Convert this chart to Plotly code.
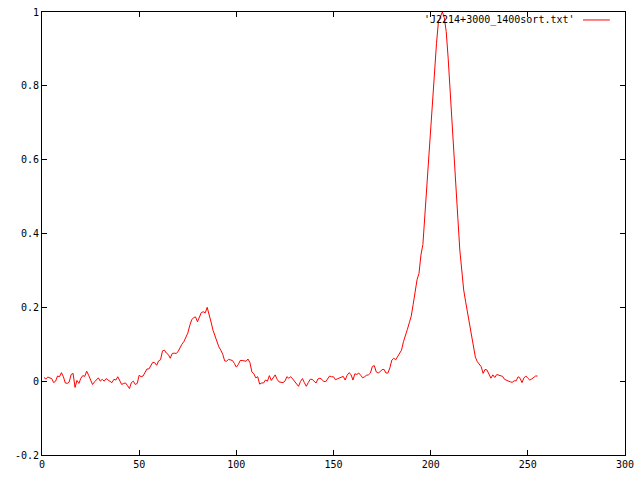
import plotly.graph_objects as go

# channel index
x_vals = list(range(1, 256))

# normalised intensity
y_vals = [
    # 1-10
    0.010, 0.006, 0.011, 0.009, 0.007, -0.004, 0.000, 0.014, 0.012, 0.023,
    # 11-20
    0.012, -0.005, -0.006, -0.002, 0.018, 0.021, -0.017, 0.002, -0.006, 0.008,
    # 21-30
    0.015, 0.013, 0.027, 0.016, 0.005, -0.009, -0.002, 0.005, 0.009, 0.000,
    # 31-40
    0.005, 0.000, 0.007, 0.003, 0.000, -0.004, 0.005, 0.003, 0.012, 0.002,
    # 41-50
    -0.009, -0.006, -0.005, -0.012, -0.020, -0.004, 0.000, -0.009, -0.006, 0.016,
    # 51-60
    0.012, 0.014, 0.025, 0.033, 0.033, 0.043, 0.051, 0.050, 0.043, 0.055,
    # 61-70
    0.058, 0.082, 0.084, 0.076, 0.072, 0.062, 0.075, 0.076, 0.075, 0.080,
    # 71-80
    0.092, 0.100, 0.107, 0.118, 0.130, 0.150, 0.166, 0.172, 0.174, 0.161,
    # 81-90
    0.174, 0.186, 0.188, 0.185, 0.200, 0.182, 0.160, 0.138, 0.122, 0.108,
    # 91-100
    0.093, 0.084, 0.073, 0.055, 0.054, 0.059, 0.057, 0.056, 0.048, 0.038,
    # 101-110
    0.045, 0.056, 0.056, 0.055, 0.054, 0.060, 0.050, 0.025, 0.020, 0.009,
    # 111-120
    0.012, -0.008, -0.005, -0.005, 0.003, 0.000, 0.015, 0.002, 0.010, 0.017,
    # 121-130
    0.005, -0.002, -0.003, -0.004, 0.000, 0.012, 0.008, 0.012, 0.006, 0.000,
    # 131-140
    -0.008, -0.014, -0.001, 0.007, -0.004, -0.014, -0.004, 0.005, 0.005, 0.000,
    # 141-150
    -0.005, 0.006, 0.008, 0.005, -0.001, -0.001, 0.007, 0.014, 0.012, 0.012,
    # 151-160
    0.004, 0.006, 0.009, 0.011, 0.013, 0.003, 0.016, 0.023, 0.018, 0.003,
    # 161-170
    0.020, 0.018, 0.022, 0.016, 0.009, 0.012, 0.016, 0.017, 0.022, 0.040,
    # 171-180
    0.042, 0.025, 0.022, 0.026, 0.031, 0.032, 0.022, 0.022, 0.036, 0.057,
    # 181-190
    0.062, 0.058, 0.068, 0.074, 0.084, 0.107, 0.127, 0.140, 0.158, 0.176,
    # 191-200
    0.208, 0.243, 0.275, 0.292, 0.342, 0.370, 0.450, 0.527, 0.599, 0.685,
    # 201-210
    0.774, 0.857, 0.915, 0.974, 0.990, 1.000, 0.985, 0.947, 0.875, 0.794,
    # 211-220
    0.703, 0.613, 0.527, 0.441, 0.355, 0.297, 0.247, 0.215, 0.184, 0.150,
    # 221-230
    0.115, 0.090, 0.065, 0.053, 0.045, 0.039, 0.021, 0.032, 0.030, 0.017,
    # 231-240
    0.008, 0.017, 0.010, 0.018, 0.017, 0.016, 0.013, 0.005, 0.002, -0.001,
    # 241-250
    -0.002, -0.003, 0.001, 0.001, 0.012, 0.008, -0.004, 0.009, 0.014, 0.008,
    # 251-255
    0.003, 0.006, 0.011, 0.014, 0.014,
]

series_name = "'J2214+3000_1400sort.txt'"
x_ticks = [0, 50, 100, 150, 200, 250, 300]
y_ticks = [-0.2, 0, 0.2, 0.4, 0.6, 0.8, 1]
y_tick_text = ["-0.2", "0", "0.2", "0.4", "0.6", "0.8", "1"]

font = dict(family="DejaVu Sans Mono", size=10, color="black")

fig = go.Figure()
fig.add_trace(go.Scatter(
    x=x_vals, y=y_vals, mode="lines",
    line=dict(color="#ff0000", width=1),
    name=series_name, showlegend=False, hoverinfo="skip",
))

axis_common = dict(
    showline=True, linecolor="black", linewidth=1, mirror="allticks",
    ticks="inside", ticklen=5, tickcolor="black", tickwidth=1,
    showgrid=False, zeroline=False, tickfont=font, automargin=False,
)

fig.update_layout(
    width=640, height=480,
    margin=dict(l=42, r=15, t=12, b=25),
    paper_bgcolor="white", plot_bgcolor="white",
    xaxis=dict(range=[0, 300], tickvals=x_ticks, **axis_common),
    yaxis=dict(range=[-0.2, 1], tickvals=y_ticks, ticktext=y_tick_text, **axis_common),
    font=font,
    showlegend=False,
)

# gnuplot-style key: text right-justified followed by a line sample
fig.add_annotation(
    xref="paper", yref="paper", x=0.917, y=0.982,
    xanchor="right", yanchor="middle", showarrow=False,
    text=series_name, font=font,
)
fig.add_shape(
    type="line", xref="paper", yref="paper",
    x0=0.928, x1=0.974, y0=0.982, y1=0.982,
    line=dict(color="#ff0000", width=1),
)

fig.write_html(
    "out.html",
    config={"displayModeBar": False, "staticPlot": True},
    post_script="document.body.style.margin='0';",
)
